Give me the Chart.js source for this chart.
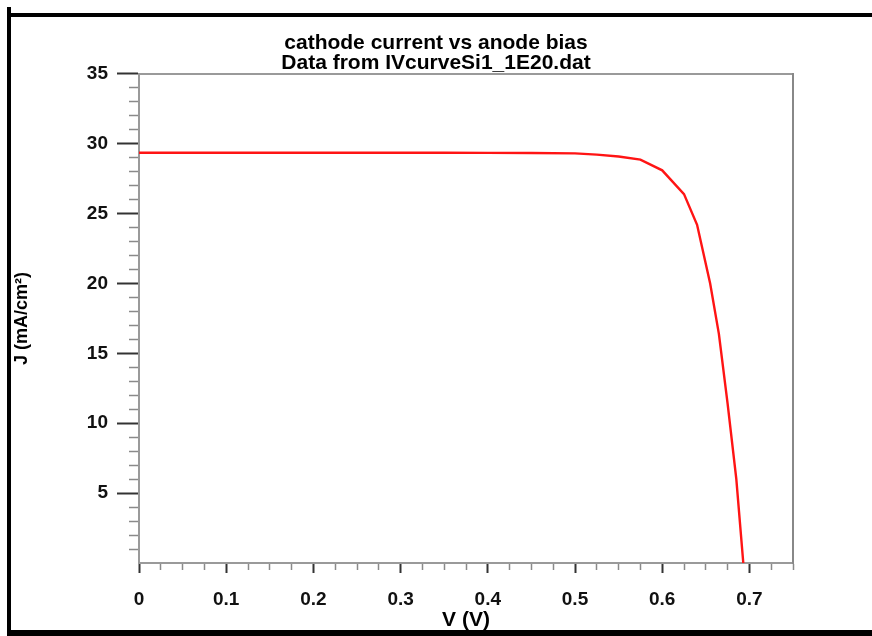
<!DOCTYPE html>
<html>
<head>
<meta charset="utf-8">
<title>cathode current vs anode bias</title>
<script src="https://cdn.jsdelivr.net/npm/chart.js@4.4.1/dist/chart.umd.min.js"></script>
<style>
  html, body { margin: 0; padding: 0; background: #fff; }
  #wrap { position: relative; width: 872px; height: 636px; overflow: hidden; }
  #ivChart { position: absolute; left: 0; top: 0; }
  .edge { position: absolute; background: #000; }
</style>
</head>
<body>
<div id="wrap">
  <canvas id="ivChart" width="872" height="636"></canvas>
  <div class="edge" style="left:7px; top:7px; width:4px; height:629px;"></div>
  <div class="edge" style="left:11px; top:13px; width:861px; height:4px;"></div>
  <div class="edge" style="left:7px; top:630px; width:865px; height:6px;"></div>
</div>
<script>
// IV curve (V in volts, J in mA/cm2)
const voltage = [0, 0.05, 0.1, 0.15, 0.2, 0.25, 0.3, 0.35, 0.4, 0.45, 0.5, 0.525, 0.55, 0.575, 0.6, 0.625, 0.64, 0.655, 0.665, 0.675, 0.685, 0.693];
const current = [29.36, 29.36, 29.36, 29.36, 29.36, 29.36, 29.36, 29.36, 29.35, 29.34, 29.31, 29.22, 29.09, 28.87, 28.1, 26.4, 24.2, 20.0, 16.4, 11.4, 6.0, 0.0];

// labelled ticks
const xLabelTicks = [0, 0.1, 0.2, 0.3, 0.4, 0.5, 0.6, 0.7];
const yLabelTicks = [5, 10, 15, 20, 25, 30, 35];

const titleLines = ['cathode current vs anode bias', 'Data from IVcurveSi1_1E20.dat'];

const FONT = '"Liberation Sans", Arial, sans-serif';
const AXIS_GREY = '#9a9a9a';

function isLabelX(v) {
    return xLabelTicks.some(t => Math.abs(t - v) < 1e-6);
}
function isLabelY(v) {
    return yLabelTicks.some(t => Math.abs(t - v) < 1e-6);
}

document.addEventListener('DOMContentLoaded', function() {
    const ctx = document.getElementById('ivChart').getContext('2d');
    new Chart(ctx, {
        type: 'line',
        data: {
            datasets: [{
                label: 'J',
                data: voltage.map((v, i) => ({ x: v, y: current[i] })),
                borderColor: 'rgb(255, 20, 20)',
                borderWidth: 2.4,
                pointRadius: 0,
                tension: 0,
                fill: false
            }]
        },
        options: {
            responsive: false,
            animation: false,
            layout: { padding: 0 },
            plugins: {
                legend: { display: false },
                tooltip: { enabled: false },
                title: {
                    display: true,
                    text: titleLines,
                    color: '#000',
                    font: { family: FONT, size: 21, weight: 'bold', lineHeight: 0.95 },
                    padding: { top: 33, bottom: 1 }
                }
            },
            scales: {
                x: {
                    type: 'linear',
                    position: 'bottom',
                    min: 0,
                    max: 0.75,
                    afterFit: function(scale) { scale.height = 73; },
                    border: { display: true, color: AXIS_GREY, width: 2 },
                    grid: {
                        drawOnChartArea: false,
                        drawTicks: true,
                        tickLength: 10,
                        tickColor: c => isLabelX(c.tick.value) ? '#333' : '#8a8a8a',
                        tickWidth: c => isLabelX(c.tick.value) ? 2 : 1.5,
                        tickBorderDash: c => isLabelX(c.tick.value) ? [] : [6, 100]
                    },
                    ticks: {
                        stepSize: 0.025,
                        autoSkip: false,
                        maxRotation: 0,
                        padding: 15,
                        color: '#111',
                        font: { family: FONT, size: 19, weight: 'bold' },
                        callback: function(v) {
                            return isLabelX(v) ? String(Math.round(v * 10) / 10) : '';
                        }
                    },
                    title: {
                        display: true,
                        text: 'V (V)',
                        color: '#000',
                        font: { family: FONT, size: 21, weight: 'bold', lineHeight: 1 },
                        padding: { top: 0, bottom: 5 }
                    }
                },
                y: {
                    type: 'linear',
                    position: 'left',
                    min: 0,
                    max: 35,
                    afterFit: function(scale) { scale.width = 139; },
                    border: { display: true, color: AXIS_GREY, width: 2 },
                    grid: {
                        drawOnChartArea: false,
                        drawTicks: true,
                        tickLength: 22,
                        tickColor: c => c.tick.value === 0 ? 'rgba(0,0,0,0)' : (isLabelY(c.tick.value) ? '#333' : '#8a8a8a'),
                        tickWidth: c => isLabelY(c.tick.value) ? 2 : 1.5,
                        tickBorderDash: c => isLabelY(c.tick.value) ? [] : [0, 12, 10, 100]
                    },
                    ticks: {
                        stepSize: 1,
                        autoSkip: false,
                        padding: 9,
                        color: '#111',
                        font: { family: FONT, size: 19, weight: 'bold' },
                        callback: function(v) {
                            return isLabelY(v) ? String(v) : '';
                        }
                    },
                    title: {
                        display: true,
                        text: 'J (mA/cm²)',
                        color: '#000',
                        font: { family: FONT, size: 18, weight: 'bold', lineHeight: 1 },
                        padding: { top: 13, bottom: 0 }
                    }
                },
                // frame: top and right edges of the plot box
                xTop: {
                    type: 'linear',
                    position: 'top',
                    min: 0,
                    max: 0.75,
                    afterFit: function(scale) { scale.height = 0; },
                    border: { display: true, color: AXIS_GREY, width: 2 },
                    grid: { display: false },
                    ticks: { display: false }
                },
                yRight: {
                    type: 'linear',
                    position: 'right',
                    min: 0,
                    max: 35,
                    afterFit: function(scale) { scale.width = 79; },
                    border: { display: true, color: '#888', width: 2 },
                    grid: { display: false },
                    ticks: { display: false }
                }
            }
        }
    });
});
</script>
</body>
</html>
